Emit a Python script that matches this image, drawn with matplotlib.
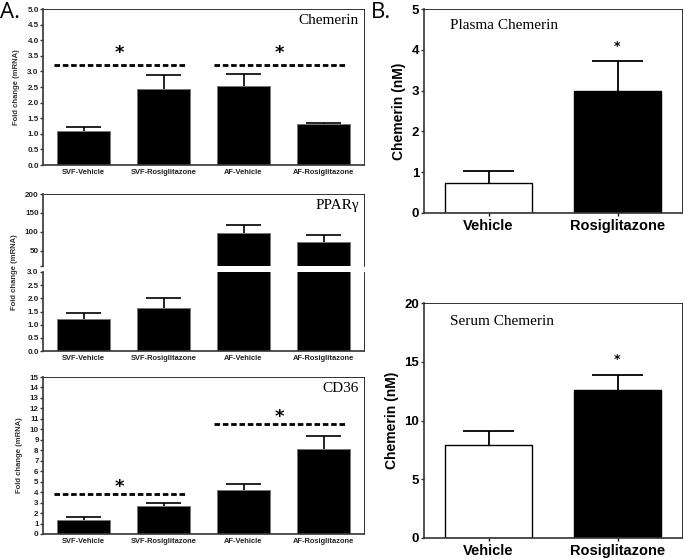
import matplotlib
matplotlib.use('Agg')
import matplotlib.pyplot as plt
import numpy as np

# ---------------- data ----------------
groups = ['SVF-Vehicle', 'SVF-Rosiglitazone', 'AF-Vehicle', 'AF-Rosiglitazone']
chemerin_mean = [1.08, 2.42, 2.53, 1.32]
chemerin_err = [0.14, 0.46, 0.40, 0.02]
ppar_mean = [1.23, 1.62, 97, 73]
ppar_err = [0.20, 0.40, 21, 20]
cd36_mean = [1.35, 2.65, 4.25, 8.15]
cd36_err = [0.25, 0.35, 0.50, 1.20]

chemerin_sig = [(0, 1, 3.2), (2, 3, 3.2)]
cd36_sig = [(0, 1, 3.8), (2, 3, 10.5)]

b_groups = ['Vehicle', 'Rosiglitazone']
plasma_mean = [0.73, 2.98]
plasma_err = [0.30, 0.74]
serum_mean = [7.9, 12.6]
serum_err = [1.2, 1.25]

# ---------------- style ----------------
SANS = ['Liberation Sans', 'DejaVu Sans']
SERIF = ['Liberation Serif', 'DejaVu Serif']
plt.rcParams['font.family'] = SANS

W, H = 685, 559
fig = plt.figure(figsize=(W / 100, H / 100), dpi=100)


def ax_px(left, top, right, bottom):
    return fig.add_axes([left / W, 1 - bottom / H, (right - left) / W, (bottom - top) / H])


def style_axes(ax, tick_fs, label_color='#222'):
    for s in ['left', 'bottom']:
        ax.spines[s].set_linewidth(1.2)
        ax.spines[s].set_color('#333')
    for s in ['top', 'right']:
        ax.spines[s].set_linewidth(0.6)
        ax.spines[s].set_color('#111')
    ax.tick_params(axis='y', length=2.5, width=1.0, labelsize=tick_fs, pad=1,
                   colors='#333', labelcolor=label_color)
    for lab in ax.get_yticklabels():
        lab.set_fontweight('bold')


def upper_err(ax, x, means, errs, half, lw):
    tops = np.asarray(means) + np.asarray(errs)
    ax.vlines(x, means, tops, color='black', lw=lw, zorder=3)
    ax.hlines(tops, x - half, x + half, color='black', lw=lw, zorder=3)


def a_bars(ax, means, errs):
    x = np.arange(len(means))
    ax.bar(x, means, width=0.66, color='black', edgecolor='#777', linewidth=0.6, zorder=2)
    upper_err(ax, x, means, errs, 0.22, 1.2)
    ax.set_xlim(-0.5, len(means) - 0.5)
    ax.set_xticks(x)
    ax.set_xticklabels(groups, fontsize=5.4, fontweight='bold', color='#222')
    ax.tick_params(axis='x', length=0, pad=3)


def sig_lines(ax, sigs, star_off):
    for i, j, y in sigs:
        ax.plot([i - 0.37, j + 0.29], [y, y], color='black', lw=2.0,
                linestyle=(0, (2.0, 1.0)), solid_capstyle='butt', zorder=4)
        ax.annotate('*', xy=((i + j) / 2 - 0.05, y), xytext=(0, star_off),
                    textcoords='offset points', ha='center', va='baseline',
                    fontsize=13, fontweight='bold', family=['DejaVu Sans'])


# ---------- Panel A: Chemerin ----------
ax1 = ax_px(43.5, 9, 363.5, 165)
a_bars(ax1, chemerin_mean, chemerin_err)
ax1.set_ylim(0, 5.0)
ax1.set_yticks(np.arange(0, 5.01, 0.5))
ax1.set_yticklabels([f'{v:.1f}' for v in np.arange(0, 5.01, 0.5)])
style_axes(ax1, 5.8)
sig_lines(ax1, chemerin_sig, 5)
ax1.text(0.985, 0.97, 'Chemerin', transform=ax1.transAxes, ha='right', va='top',
         fontsize=11, family=SERIF)
ax1.set_ylabel('Fold change (mRNA)', fontsize=5.5, fontweight='bold', color='#333', labelpad=5)

# ---------- Panel A: PPARgamma (broken axis) ----------
ax2u = ax_px(43.5, 194, 363.5, 266)
ax2l = ax_px(43.5, 272, 363.5, 351)
for ax in (ax2u, ax2l):
    a_bars(ax, ppar_mean, ppar_err)
ax2u.set_ylim(10, 200)
ax2u.set_yticks([10, 50, 100, 150, 200])
ax2u.set_yticklabels(['', '50', '100', '150', '200'])
ax2l.set_ylim(0, 3.0)
ax2l.set_yticks(np.arange(0, 3.01, 0.5))
ax2l.set_yticklabels([f'{v:.1f}' for v in np.arange(0, 3.01, 0.5)])
style_axes(ax2u, 5.8)
style_axes(ax2l, 5.8)
ax2u.spines['bottom'].set_visible(False)
ax2u.tick_params(axis='x', labelbottom=False)
ax2l.spines['top'].set_visible(False)
ax2u.text(0.985, 0.93, 'PPARγ', transform=ax2u.transAxes, ha='right', va='top',
          fontsize=11, family=SERIF)
fig.text(15 / W, 1 - 272 / H, 'Fold change (mRNA)', rotation=90, ha='center', va='center',
         fontsize=5.5, fontweight='bold', color='#333')

# ---------- Panel A: CD36 ----------
ax3 = ax_px(43.5, 377, 363.5, 534)
a_bars(ax3, cd36_mean, cd36_err)
ax3.set_ylim(0, 15)
ax3.set_yticks(np.arange(0, 16, 1))
ax3.set_yticklabels([str(v) for v in range(0, 16)])
style_axes(ax3, 5.8)
sig_lines(ax3, cd36_sig, 1.5)
ax3.text(0.985, 0.97, 'CD36', transform=ax3.transAxes, ha='right', va='top',
         fontsize=11, family=SERIF)
ax3.set_ylabel('Fold change (mRNA)', fontsize=5.5, fontweight='bold', color='#333', labelpad=5)


# ---------- Panel B ----------
def b_panel(ax, means, errs, ymax, step, title, star_off):
    x = np.arange(len(means))
    ax.bar(x, means, width=0.67, color=['white', 'black'], edgecolor='black',
           linewidth=1.0, zorder=2)
    upper_err(ax, x, means, errs, 0.197, 1.3)
    ax.set_xlim(-0.5, len(means) - 0.5)
    ax.set_ylim(0, ymax)
    ax.set_yticks(np.arange(0, ymax + 0.01, step))
    ax.set_xticks(x)
    ax.set_xticklabels(b_groups, fontsize=10.5, fontweight='bold')
    ax.tick_params(axis='x', length=2.5, width=1.0, pad=2)
    style_axes(ax, 9.5, label_color='black')
    ax.set_ylabel('Chemerin (nM)', fontsize=10, fontweight='bold', labelpad=4)
    ax.text(0.1, 0.95, title, transform=ax.transAxes, ha='left', va='top',
            fontsize=11, family=SERIF)
    ax.annotate('*', xy=(x[1], means[1] + errs[1]), xytext=(0, star_off),
                textcoords='offset points', ha='center', va='baseline',
                fontsize=9, fontweight='bold', family=['DejaVu Sans'])


axb1 = ax_px(424, 9, 682, 213)
b_panel(axb1, plasma_mean, plasma_err, 5, 1, 'Plasma Chemerin', 8)
axb2 = ax_px(424, 303, 682, 538)
b_panel(axb2, serum_mean, serum_err, 20, 5, 'Serum Chemerin', 8.5)

# panel letters
fig.text(0 / W, 1 - 18 / H, 'A.', fontsize=16, family=['Open Sans', 'DejaVu Sans'],
         ha='left', va='baseline')
fig.text(371 / W, 1 - 17.5 / H, 'B.', fontsize=16, family=['Open Sans', 'DejaVu Sans'],
         ha='left', va='baseline')

fig.savefig('out.png', dpi=100)
